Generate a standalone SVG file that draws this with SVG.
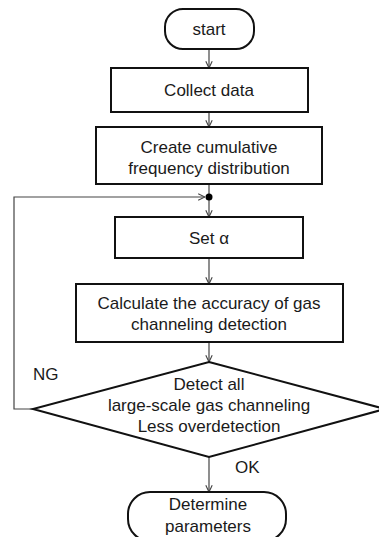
<svg xmlns="http://www.w3.org/2000/svg" width="379" height="537" viewBox="0 0 379 537">
<style>
.shape{fill:#fff;stroke:#111;stroke-width:2}
.conn{fill:none;stroke:#444;stroke-width:1.2}
text{font-family:"Liberation Sans",Arial,sans-serif;font-size:17px;fill:#1a1a1a;text-anchor:middle}
.lbl{text-anchor:start}
</style>
<defs>
<marker id="arr" markerUnits="userSpaceOnUse" viewBox="0 0 10 10" refX="9.5" refY="5" markerWidth="8" markerHeight="8" orient="auto">
<path d="M1,1 L9.5,5 L1,9" fill="none" stroke="#444" stroke-width="1.4"/>
</marker>
</defs>
<rect width="379" height="537" fill="#fff"/>
<g id="connectors">
<line class="conn" x1="209" y1="49" x2="209" y2="68" marker-end="url(#arr)"/>
<line class="conn" x1="209" y1="112" x2="209" y2="127" marker-end="url(#arr)"/>
<line class="conn" x1="209" y1="184" x2="209" y2="197"/>
<line class="conn" x1="209" y1="197" x2="209" y2="217" marker-end="url(#arr)"/>
<line class="conn" x1="209" y1="258" x2="209" y2="284" marker-end="url(#arr)"/>
<line class="conn" x1="209" y1="342" x2="209" y2="362" marker-end="url(#arr)"/>
<line class="conn" x1="209" y1="457" x2="209" y2="492" marker-end="url(#arr)"/>
<polyline class="conn" points="33,409 14,409 14,197 205,197" marker-end="url(#arr)"/>
<circle cx="209" cy="197" r="3.5" fill="#000"/>
<text class="lbl" x="33" y="380">NG</text>
<text class="lbl" x="235" y="473">OK</text>
</g>
<g id="start">
<rect class="shape" x="165" y="9" width="89" height="40" rx="18"/>
<text x="209" y="35">start</text>
</g>
<g id="collect">
<rect class="shape" x="111" y="68" width="197" height="44"/>
<text x="209" y="96">Collect data</text>
</g>
<g id="create">
<rect class="shape" x="96" y="127" width="226" height="57"/>
<text x="209" y="153">Create cumulative</text>
<text x="209" y="174">frequency distribution</text>
</g>
<g id="set">
<rect class="shape" x="115" y="217" width="188" height="41"/>
<text x="209" y="244">Set α</text>
</g>
<g id="calc">
<rect class="shape" x="76" y="284" width="267" height="58"/>
<text x="209" y="309">Calculate the accuracy of gas</text>
<text x="209" y="330">channeling detection</text>
</g>
<g id="decision">
<polygon class="shape" points="209,362 385,409 209,457 33,409"/>
<text x="209" y="390">Detect all</text>
<text x="209" y="411">large-scale gas channeling</text>
<text x="209" y="432">Less overdetection</text>
</g>
<g id="determine">
<rect class="shape" x="128" y="492" width="158" height="49" rx="22"/>
<text x="208" y="510">Determine</text>
<text x="208" y="532">parameters</text>
</g>
</svg>
